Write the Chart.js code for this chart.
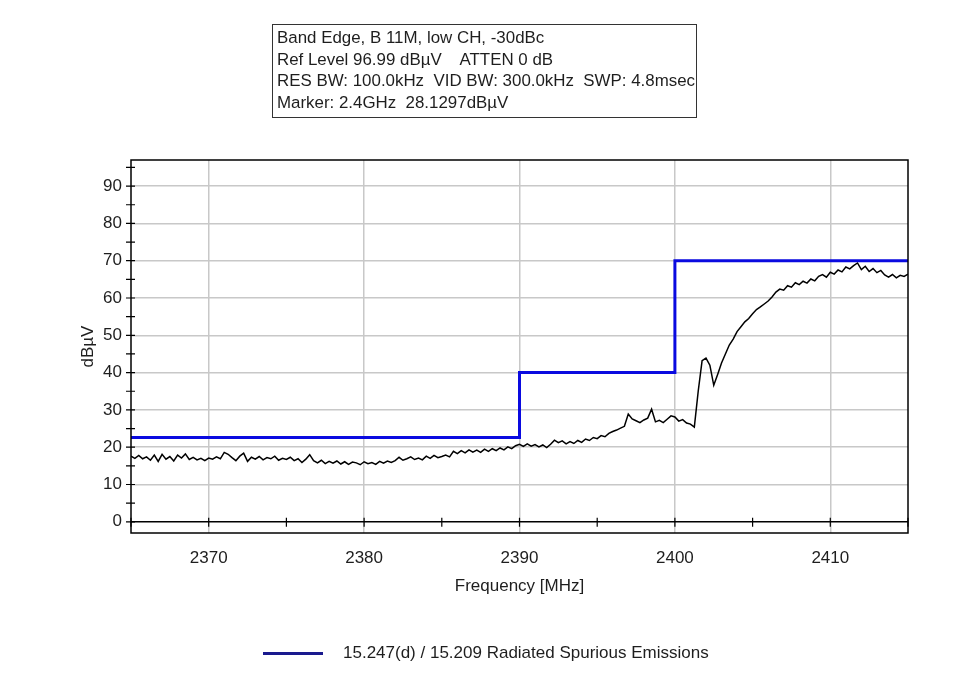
<!DOCTYPE html>
<html><head><meta charset="utf-8">
<script src="https://cdn.jsdelivr.net/npm/chart.js@4.4.1/dist/chart.umd.min.js"></script>
<style>
html,body{margin:0;padding:0;background:#fff;}
#wrap{position:relative;width:954px;height:673px;overflow:hidden;background:#fff;}
#c{position:absolute;left:0;top:0;}
#info{position:absolute;left:272px;top:24px;width:425px;height:94px;border:1.5px solid #333;box-sizing:border-box;
  font:16.9px "Liberation Sans",Arial,sans-serif;color:#1e1e1e;white-space:pre;padding:2px 0 0 4px;line-height:21.7px;}
#legend{position:absolute;left:263px;top:642px;height:22px;font:17px "Liberation Sans",Arial,sans-serif;color:#1e1e1e;white-space:pre;}
#legend .ln{position:absolute;left:0;top:10px;width:60px;height:3px;background:#1a1a8e;}
#legend .tx{position:absolute;left:80px;top:0;line-height:22px;}
</style></head>
<body>
<div id="wrap">
<canvas id="c" width="954" height="673"></canvas>
<div id="info">Band Edge, B 11M, low CH, -30dBc
Ref Level 96.99 dBµV    ATTEN 0 dB
RES BW: 100.0kHz  VID BW: 300.0kHz  SWP: 4.8msec
Marker: 2.4GHz  28.1297dBµV</div>
<div id="legend"><div class="ln"></div><div class="tx">15.247(d) / 15.209 Radiated Spurious Emissions</div></div>
</div>
<script>
// ---- data ----
const xTickLabels = [2370, 2380, 2390, 2400, 2410];
const yTickLabels = [0, 10, 20, 30, 40, 50, 60, 70, 80, 90];
const xMinorTicks = [2365, 2370, 2375, 2380, 2385, 2390, 2395, 2400, 2405, 2410, 2415];
const yMinorTicks = [0, 5, 10, 15, 20, 25, 30, 35, 40, 45, 50, 55, 60, 65, 70, 75, 80, 85, 90, 95];

const limitFreq  = [2365, 2390, 2390, 2400, 2400, 2415];
const limitLevel = [22.6, 22.6, 40, 40, 70, 70];

const traceFreq = [
 2365,2365.25,2365.5,2365.75, 2366,2366.25,2366.5,2366.75, 2367,2367.25,2367.5,2367.75,
 2368,2368.25,2368.5,2368.75, 2369,2369.25,2369.5,2369.75, 2370,2370.25,2370.5,2370.75,
 2371,2371.25,2371.5,2371.75, 2372,2372.25,2372.5,2372.75, 2373,2373.25,2373.5,2373.75,
 2374,2374.25,2374.5,2374.75, 2375,2375.25,2375.5,2375.75, 2376,2376.25,2376.5,2376.75,
 2377,2377.25,2377.5,2377.75, 2378,2378.25,2378.5,2378.75, 2379,2379.25,2379.5,2379.75,
 2380,2380.25,2380.5,2380.75, 2381,2381.25,2381.5,2381.75, 2382,2382.25,2382.5,2382.75,
 2383,2383.25,2383.5,2383.75, 2384,2384.25,2384.5,2384.75, 2385,2385.25,2385.5,2385.75,
 2386,2386.25,2386.5,2386.75, 2387,2387.25,2387.5,2387.75, 2388,2388.25,2388.5,2388.75,
 2389,2389.25,2389.5,2389.75, 2390,2390.25,2390.5,2390.75, 2391,2391.25,2391.5,2391.75,
 2392,2392.25,2392.5,2392.75, 2393,2393.25,2393.5,2393.75, 2394,2394.25,2394.5,2394.75,
 2395,2395.25,2395.5,2395.75, 2396,2396.25,2396.5,2396.75, 2397,2397.25,2397.5,2397.75,
 2398,2398.25,2398.5,2398.75, 2399,2399.25,2399.5,2399.75, 2400,2400.25,2400.5,2400.75,
 2401,2401.25,2401.5,2401.75, 2402,2402.25,2402.5,2402.75, 2403,2403.25,2403.5,2403.75,
 2404,2404.25,2404.5,2404.75, 2405,2405.25,2405.5,2405.75, 2406,2406.25,2406.5,2406.75,
 2407,2407.25,2407.5,2407.75, 2408,2408.25,2408.5,2408.75, 2409,2409.25,2409.5,2409.75,
 2410,2410.25,2410.5,2410.75, 2411,2411.25,2411.5,2411.75, 2412,2412.25,2412.5,2412.75,
 2413,2413.25,2413.5,2413.75, 2414,2414.25,2414.5,2414.75, 2415
];
const traceLevel = [
 17.6,17.0,17.8,16.9, 17.4,16.5,17.9,16.2, 18.1,16.8,17.5,16.3,
 17.9,17.1,18.2,16.7, 17.3,16.6,17.0,16.4, 17.1,16.8,17.4,16.9,
 18.6,18.1,17.2,16.4, 17.6,18.4,16.2,17.3, 16.8,17.5,16.6,17.2,
 16.9,17.6,16.5,17.0, 16.7,17.3,16.4,16.9, 15.9,16.8,18.0,16.4,
 15.8,16.5,15.6,16.2, 15.7,16.3,15.5,16.1, 15.4,16.0,15.8,15.3,
 16.1,15.6,15.9,15.4, 16.2,15.7,16.3,15.9, 16.4,17.3,16.5,16.9,
 17.4,16.7,17.1,16.6, 17.6,17.0,17.8,17.2, 17.5,17.9,17.4,18.9,
 18.3,19.1,18.5,19.3, 18.7,19.2,18.6,19.5, 18.9,19.6,19.1,19.8,
 19.3,20.1,19.6,20.4, 20.8,20.2,20.9,20.3, 20.7,20.1,20.6,19.9,
 20.8,21.9,21.2,21.7, 20.9,21.5,21.0,21.8, 21.3,22.2,21.8,22.6,
 22.3,23.1,22.8,23.7, 24.2,24.6,25.1,25.6, 28.9,27.6,27.1,26.6,
 27.3,27.8,30.2,26.8, 27.2,26.6,27.5,28.4, 28.1,27.0,27.4,26.5,
 26.2,25.4,35.0,43.2, 43.9,42.0,36.6,39.5, 42.6,45.0,47.4,49.0,
 51.0,52.3,53.6,54.5, 55.8,56.9,57.6,58.4, 59.2,60.3,61.6,62.4,
 62.1,63.3,62.9,64.1, 63.6,64.5,64.0,65.1, 64.6,65.8,66.3,65.6,
 66.9,66.4,67.5,67.0, 68.3,67.8,68.7,69.4, 67.6,68.5,67.1,67.9,
 66.8,67.4,66.2,65.6, 66.3,65.4,66.1,65.8, 66.4
];

// ---- chart ----
const FONT = '"Liberation Sans", Arial, sans-serif';
const frame = {
  id: 'frame',
  afterDraw(chart) {
    const {ctx, chartArea: a, scales: {x, y}} = chart;
    ctx.save();
    ctx.strokeStyle = '#000';
    ctx.lineWidth = 1.5;
    const y0 = y.getPixelForValue(0);
    ctx.beginPath(); ctx.moveTo(a.left, y0); ctx.lineTo(a.right, y0); ctx.stroke();
    ctx.strokeRect(a.left, a.top, a.right - a.left, a.bottom - a.top);
    ctx.lineWidth = 1.2;
    ctx.beginPath();
    yMinorTicks.forEach(v => { const p = y.getPixelForValue(v); ctx.moveTo(a.left - 5, p); ctx.lineTo(a.left + 4, p); });
    xMinorTicks.forEach(v => { const p = x.getPixelForValue(v); ctx.moveTo(p, y0 - 4); ctx.lineTo(p, y0 + 5); });
    ctx.stroke();
    ctx.restore();
  }
};

new Chart(document.getElementById('c'), {
  type: 'line',
  data: {
    datasets: [
      {
        label: '15.247(d) / 15.209 Radiated Spurious Emissions',
        data: limitFreq.map((f, i) => ({x: f, y: limitLevel[i]})),
        borderColor: '#0a0ae0', borderWidth: 3, pointRadius: 0, tension: 0, order: 1
      },
      {
        label: 'trace',
        data: traceFreq.map((f, i) => ({x: f, y: traceLevel[i]})),
        borderColor: '#000', borderWidth: 1.5, pointRadius: 0, tension: 0, order: 2
      }
    ]
  },
  options: {
    responsive: false, animation: false, devicePixelRatio: 1,
    layout: {padding: {left: 0, top: 160, right: 46, bottom: 73}},
    plugins: {legend: {display: false}, tooltip: {enabled: false}},
    scales: {
      x: {
        type: 'linear', min: 2365, max: 2415,
        afterBuildTicks: s => { s.ticks = xTickLabels.map(v => ({value: v})); },
        afterFit: s => { s.height = 67; },
        grid: {color: '#c8c8c8', lineWidth: 1.5, drawTicks: false},
        border: {display: false},
        ticks: {padding: 15, color: '#1e1e1e', font: {family: FONT, size: 17}, maxRotation: 0, callback: v => String(v)},
        title: {display: true, text: 'Frequency [MHz]', color: '#1e1e1e', font: {family: FONT, size: 17}, padding: {top: 0, bottom: 3}}
      },
      y: {
        type: 'linear', min: -3, max: 97,
        afterBuildTicks: s => { s.ticks = yTickLabels.map(v => ({value: v})); },
        afterFit: s => { s.width = 131; },
        grid: {color: (c) => c.tick && c.tick.value === 0 ? 'rgba(0,0,0,0)' : '#c8c8c8', lineWidth: 1.5, drawTicks: false},
        border: {display: false},
        ticks: {padding: 9, color: '#1e1e1e', font: {family: FONT, size: 17}, callback: v => String(v)},
        title: {display: true, text: 'dBµV', color: '#1e1e1e', font: {family: FONT, size: 17}, padding: {top: 78, bottom: 0}}
      }
    }
  },
  plugins: [frame]
});
</script>
</body></html>
